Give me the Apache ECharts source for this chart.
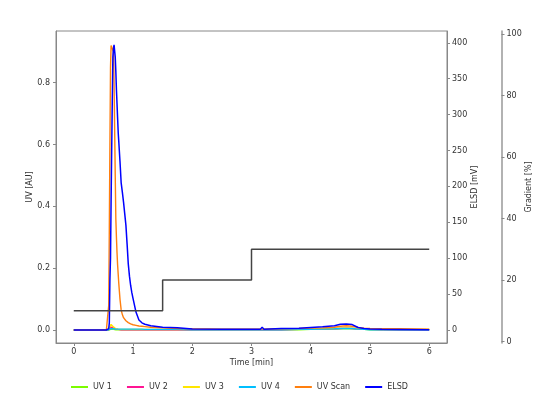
<!DOCTYPE html>
<html>
<head>
<meta charset="utf-8">
<script src="https://cdn.jsdelivr.net/npm/echarts@6/dist/echarts.min.js"></script>
<style>html,body{margin:0;padding:0;background:#fff;}#c{width:554px;height:394px;}</style>
</head>
<body>
<div id="c"></div>
<script>
// ---- data ----
const timeMin = [0, 0.2, 0.4, 0.5, 0.55, 0.57, 0.59, 0.60, 0.61, 0.62, 0.63, 0.64, 0.65, 0.66, 0.67, 0.68, 0.69, 0.70, 0.71, 0.72, 0.73, 0.74, 0.75, 0.76, 0.78, 0.80, 0.82, 0.84, 0.86, 0.88, 0.90, 0.92, 0.94, 0.96, 0.98, 1.00, 1.05, 1.10, 1.15, 1.20, 1.30, 1.40, 1.50, 1.75, 2.00, 2.50, 3.00, 3.15, 3.18, 3.21, 3.50, 3.80, 4.00, 4.20, 4.40, 4.50, 4.60, 4.70, 4.80, 4.90, 5.00, 5.20, 5.50, 6.00];
const uv1 = [0, 0, 0, 0, 0, 0, 0, 0.001, 0.002, 0.003, 0.003, 0.003, 0.003, 0.003, 0.002, 0.002, 0.002, 0.001, 0.001, 0.001, 0.001, 0.001, 0.001, 0.001, 0.001, 0.001, 0.001, 0.001, 0.001, 0.001, 0.001, 0.001, 0.001, 0.001, 0.001, 0.001, 0.001, 0.001, 0.001, 0.001, 0.001, 0.001, 0.001, 0.001, 0.001, 0.001, 0.001, 0.001, 0.001, 0.001, 0.001, 0.001, 0.002, 0.002, 0.003, 0.004, 0.004, 0.004, 0.003, 0.002, 0.001, 0.001, 0.001, 0.001];
const uv2 = [0, 0, 0, 0, 0, 0, 0.001, 0.003, 0.006, 0.009, 0.010, 0.010, 0.009, 0.008, 0.006, 0.005, 0.004, 0.003, 0.003, 0.002, 0.002, 0.002, 0.002, 0.002, 0.002, 0.001, 0.001, 0.001, 0.001, 0.001, 0.001, 0.001, 0.001, 0.001, 0.001, 0.001, 0.001, 0.001, 0.001, 0.001, 0.001, 0.001, 0.001, 0.001, 0.001, 0.001, 0.001, 0.001, 0.001, 0.001, 0.001, 0.002, 0.002, 0.003, 0.004, 0.005, 0.006, 0.005, 0.003, 0.002, 0.002, 0.001, 0.001, 0.001];
const uv3 = [0, 0, 0, 0, 0, 0, 0.002, 0.006, 0.011, 0.015, 0.018, 0.018, 0.016, 0.013, 0.010, 0.008, 0.006, 0.005, 0.004, 0.004, 0.003, 0.003, 0.003, 0.003, 0.002, 0.002, 0.002, 0.002, 0.002, 0.002, 0.002, 0.002, 0.002, 0.002, 0.002, 0.002, 0.002, 0.002, 0.002, 0.002, 0.002, 0.002, 0.002, 0.002, 0.002, 0.002, 0.002, 0.002, 0.002, 0.002, 0.002, 0.003, 0.003, 0.004, 0.005, 0.006, 0.007, 0.006, 0.004, 0.003, 0.002, 0.002, 0.002, 0.002];
const uv4 = [0, 0, 0, 0, 0, 0, 0.001, 0.002, 0.003, 0.003, 0.004, 0.004, 0.004, 0.004, 0.004, 0.004, 0.003, 0.003, 0.003, 0.003, 0.003, 0.003, 0.003, 0.003, 0.003, 0.003, 0.003, 0.003, 0.003, 0.003, 0.003, 0.003, 0.003, 0.003, 0.003, 0.003, 0.003, 0.003, 0.003, 0.002, 0.002, 0.002, 0.002, 0.002, 0.001, 0.001, 0.001, 0.001, 0.001, 0.001, 0.001, 0.002, 0.002, 0.003, 0.004, 0.005, 0.005, 0.005, 0.003, 0.002, 0.001, 0.001, 0.001, 0.001];
const uvScan = [0, 0, 0, 0, 0, 0.003, 0.08, 0.33, 0.60, 0.85, 0.92, 0.92, 0.92, 0.92, 0.90, 0.80, 0.65, 0.50, 0.36, 0.30, 0.25, 0.21, 0.18, 0.15, 0.10, 0.065, 0.050, 0.040, 0.034, 0.030, 0.027, 0.024, 0.022, 0.020, 0.018, 0.017, 0.015, 0.013, 0.012, 0.011, 0.009, 0.008, 0.007, 0.005, 0.004, 0.003, 0.003, 0.003, 0.003, 0.003, 0.004, 0.005, 0.006, 0.007, 0.009, 0.012, 0.014, 0.012, 0.008, 0.006, 0.005, 0.004, 0.004, 0.003];
const elsd = [0, 0, 0, 0, 0, 0, 2, 10, 70, 100, 180, 250, 320, 380, 392, 397, 397, 380, 360, 335, 315, 295, 275, 262, 235, 205, 192, 178, 162, 146, 120, 92, 75, 62, 52, 44, 25, 14, 10, 8, 6, 5, 4, 3, 1.5, 1, 1, 1, 4, 1, 2, 2.5, 3.5, 4.5, 6, 8, 8.5, 7.5, 3.5, 2, 1.5, 1, 0.8, 0.5];
const gradTime = [0, 1.5, 3, 6];
const gradValues = [10, 20, 30, 30];
const xTicks = [0, 1, 2, 3, 4, 5, 6];
const uvTicks = [0, 0.2, 0.4, 0.6, 0.8];
const elsdTicks = [0, 50, 100, 150, 200, 250, 300, 350, 400];
const gradTicks = [0, 20, 40, 60, 80, 100];

const pair = (ys) => timeMin.map((t, i) => [t, ys[i]]);
const FONT = 'DejaVu Sans';
const FS = 8;
const axisCol = '#888';
const txtCol = '#333';

function yAxisBase(extra) {
  return Object.assign({
    type: 'value',
    splitLine: { show: false },
    axisLine: { show: true, onZero: false, lineStyle: { color: axisCol, width: 1 } },
    nameLocation: 'middle',
    nameMoveOverlap: false,
    nameTextStyle: { fontFamily: FONT, fontSize: FS, color: txtCol }
  }, extra);
}

const chart = echarts.init(document.getElementById('c'), null, { renderer: 'canvas' });
chart.setOption({
  animation: false,
  backgroundColor: '#fff',
  grid: { left: 56, right: 107, top: 31, bottom: 51, show: true, borderColor: axisCol, borderWidth: 1 },
  xAxis: {
    type: 'value', min: -0.3, max: 6.3,
    name: 'Time [min]', nameLocation: 'middle', nameGap: 16, nameMoveOverlap: false,
    nameTextStyle: { fontFamily: FONT, fontSize: FS, color: txtCol },
    splitLine: { show: false },
    axisLine: { show: true, onZero: false, lineStyle: { color: axisCol } },
    axisTick: { show: true, length: 3, customValues: xTicks, lineStyle: { color: axisCol } },
    axisLabel: { customValues: xTicks, fontFamily: FONT, fontSize: FS, color: txtCol, margin: 5 }
  },
  yAxis: [
    yAxisBase({
      position: 'left', min: -0.042, max: 0.967, name: 'UV [AU]', nameGap: 22,
      axisTick: { show: true, length: 3, customValues: uvTicks, lineStyle: { color: axisCol } },
      axisLabel: { customValues: uvTicks, fontFamily: FONT, fontSize: FS, color: txtCol, margin: 6, formatter: v => v.toFixed(1) }
    }),
    yAxisBase({
      position: 'right', min: -18.1, max: 416.4, name: 'ELSD [mV]', nameGap: 23.5,
      axisTick: { show: true, length: 3, customValues: elsdTicks, lineStyle: { color: axisCol } },
      axisLabel: { customValues: elsdTicks, fontFamily: FONT, fontSize: FS, color: txtCol, margin: 5 }
    }),
    yAxisBase({
      position: 'right', offset: 54.5, min: -0.5, max: 101, name: 'Gradient [%]', nameGap: 23,
      axisLine: { show: true, onZero: false, lineStyle: { color: '#999', width: 1.5 } },
      axisTick: { show: true, length: 3, customValues: gradTicks, lineStyle: { color: axisCol } },
      axisLabel: { customValues: gradTicks, fontFamily: FONT, fontSize: FS, color: txtCol, margin: 5 }
    })
  ],
  legend: {
    left: 66, top: 378, icon: 'rect', itemWidth: 17, itemHeight: 2, itemGap: 15,
    textStyle: { fontFamily: FONT, fontSize: FS, color: txtCol },
    data: ['UV 1', 'UV 2', 'UV 3', 'UV 4', 'UV Scan', 'ELSD']
  },
  series: [
    { name: 'UV 1', type: 'line', yAxisIndex: 0, data: pair(uv1), showSymbol: false, color: '#7cfc00', lineStyle: { width: 1.4 } },
    { name: 'UV 2', type: 'line', yAxisIndex: 0, data: pair(uv2), showSymbol: false, color: '#ff1493', lineStyle: { width: 1.4 } },
    { name: 'UV 3', type: 'line', yAxisIndex: 0, data: pair(uv3), showSymbol: false, color: '#ffe600', lineStyle: { width: 1.4 } },
    { name: 'UV 4', type: 'line', yAxisIndex: 0, data: pair(uv4), showSymbol: false, color: '#00bfff', lineStyle: { width: 1.4 } },
    { name: 'UV Scan', type: 'line', yAxisIndex: 0, data: pair(uvScan), showSymbol: false, color: '#ff7f0e', lineStyle: { width: 1.4 } },
    { name: 'ELSD', type: 'line', yAxisIndex: 1, data: pair(elsd), showSymbol: false, color: '#0000ff', lineStyle: { width: 1.5 } },
    { name: 'Gradient', type: 'line', yAxisIndex: 2, step: 'end', data: gradTime.map((t, i) => [t, gradValues[i]]), showSymbol: false, color: '#444', lineStyle: { width: 1.5 } }
  ]
});
</script>
</body>
</html>
